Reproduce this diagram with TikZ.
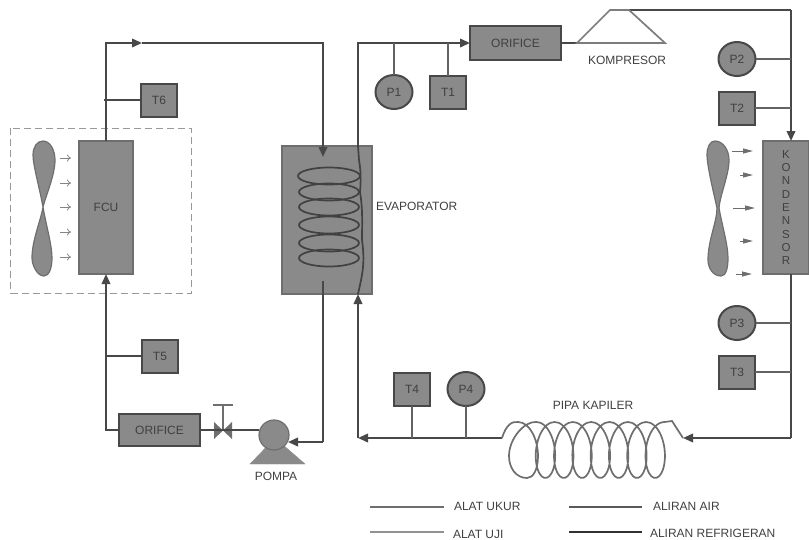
\documentclass[tikz,border=0pt]{standalone}
\usepackage{fontspec}
\setmainfont{Liberation Sans}
\usepackage{xcolor}
\usetikzlibrary{shapes.geometric, arrows.meta, positioning, calc}
\definecolor{unit}{HTML}{8A8A8A}
\definecolor{pipe}{HTML}{484848}
\definecolor{edge}{HTML}{6E6E6E}
\definecolor{label}{HTML}{404040}

\begin{document}
\begin{tikzpicture}[
  x=1pt, y=-1pt,
  every node/.style={font=\fontsize{12}{14}\selectfont, text=label, inner sep=0pt, outer sep=0pt},
  unitbox/.style={draw=edge, line width=2pt, fill=unit, anchor=north west},
  sensorT/.style={draw=pipe, line width=2pt, fill=unit, minimum width=36pt, minimum height=33pt},
  sensorP/.style={draw=pipe, line width=2pt, fill=unit, ellipse, minimum width=37pt, minimum height=34pt},
  flow/.style={draw=pipe, line width=2pt},
  flowend/.style={flow, -{Triangle[length=10pt, width=8.5pt]}},
  stem/.style={draw=pipe!85!white, line width=2pt},
  coil/.style={draw=pipe!90!black, line width=1.7pt},
  capil/.style={draw=edge, line width=1.7pt},
  fanblade/.style={draw=edge, line width=1.2pt, fill=unit}
]
  \useasboundingbox (0,0) rectangle (809,539);

  % units
  \draw[draw=edge!70!white, line width=1pt, dash pattern=on 7pt off 4pt] (10.5,128) rectangle (191,293);
  \node[unitbox, minimum width=54pt, minimum height=133pt] (fcu) at (79,141) {FCU};
  \node[unitbox, minimum width=90pt, minimum height=148pt] (evap) at (282,146) {};
  \node[unitbox, draw=pipe, minimum width=91pt, minimum height=34pt] (orfA) at (470,26) {ORIFICE};
  \node[unitbox, draw=pipe, minimum width=81pt, minimum height=32pt] (orfB) at (119,414) {ORIFICE};
  \node[unitbox, minimum width=46pt, minimum height=133pt, align=center,
        font=\fontsize{11.5}{13.3}\selectfont] (kond) at (763,141) {K\\O\\N\\D\\E\\N\\S\\O\\R};

  % sensors
  \node[sensorT] (t1) at (448,92) {T1};
  \node[sensorT] (t2) at (737,108) {T2};
  \node[sensorT] (t3) at (737,372) {T3};
  \node[sensorT] (t4) at (412,389) {T4};
  \node[sensorT] (t5) at (160,356) {T5};
  \node[sensorT] (t6) at (159,100) {T6};
  \node[sensorP] (p1) at (394,92) {P1};
  \node[sensorP] (p2) at (737,59) {P2};
  \node[sensorP] (p3) at (737,323) {P3};
  \node[sensorP] (p4) at (466,389) {P4};

  % bends and free ends
  \coordinate (fcuTop) at (106,43);
  \coordinate (fcuMid) at (142,43);
  \coordinate (evapTop) at (323,43);
  \coordinate (evapIn) at (323,157);
  \coordinate (evapOut) at (323,281);
  \coordinate (pumpIn) at (288,442);
  \coordinate (refOut) at (358,146);
  \coordinate (refIn) at (358,294);
  \coordinate (refTop) at (358,43);
  \coordinate (refLow) at (358,438);
  \coordinate (kapL) at (502,438);
  \coordinate (kapR) at (683,438);
  \coordinate (komIn) at (577,43);
  \coordinate (komOut) at (629,10);
  \coordinate (kondX) at (791,10);
  \coordinate (kondLow) at (791,438);

  % pump and valve
  \fill[unit, draw=unit] (250,464) -- (275,438) -- (305,464) -- cycle;
  \node[draw=edge, line width=1.2pt, fill=unit, circle, minimum size=30pt] (pompa) at (274,435) {};
  \coordinate (valve) at (223,430);
  \coordinate (valveTop) at (223,405);
  \draw[stem, draw=edge] (valve) -- (valveTop);
  \draw[stem, draw=edge] ($(valveTop)+(-10,0)$) -- ($(valveTop)+(10,0)$);
  \fill[edge] (214,422) -- (232,439) -- (232,422) -- (214,439) -- cycle;

  % water loop
  \draw[flowend] (fcu.north) -- (fcuTop) -- (fcuMid);
  \draw[flowend] (fcuMid) -- (evapTop) -- (evapIn);
  \draw[flow] (evapOut) -- (evapOut |- pumpIn);
  \draw[flowend] (evapOut |- pumpIn) -- (pumpIn);
  \draw[flow] (pompa.west |- valve) -- (valve);
  \draw[flow] (valve) -- (orfB.east);
  \draw[flowend] (orfB.west) -| (fcu.south);
  \draw[flow] (t6.west) -- ($(t6.west -| fcu.north)+(-2,0)$);
  \draw[flow] (t5.west) -- (t5.west -| fcu.south);

  % refrigerant loop
  \draw[flowend] (refLow) -- (refIn);
  \draw[flowend] (refOut) -- (refTop) -- (orfA.west);
  \draw[flow] (orfA.east) -- (komIn);
  \draw[flow] (komOut) -- (kondX);
  \draw[flowend] (kondX) -- (kond.north -| kondX);
  \draw[flow] (kond.south -| kondX) -- (kondLow);
  \draw[flowend] (kondLow) -- (kapR);
  \draw[flowend] (kapL) -- (refLow);
  \draw[stem] (p1) -- (p1 |- refTop);
  \draw[stem] (t1) -- (t1 |- refTop);
  \draw[stem] (p2) -- (p2 -| kondX);
  \draw[stem] (t2) -- (t2 -| kondX);
  \draw[stem] (p3) -- (p3 -| kondX);
  \draw[stem] (t3) -- (t3 -| kondX);
  \draw[stem] (t4) -- (t4 |- kapL);
  \draw[stem] (p4) -- (p4 |- kapL);

  % kompresor
  \draw[capil, draw=edge!90!white] (komIn) -- (610,10) -- (komOut) -- (665,43) -- cycle;

  % evaporator coil
  \foreach \cy/\rx in {176/31, 192/30, 207/30, 225/30, 243/30, 258/30}
    \draw[coil] (329,\cy) ellipse [x radius=\rx, y radius=8.5];
  \draw[coil] (refOut) -- (359,160) .. controls (361,172) and (361,180) .. (360,192)
    .. controls (363,210) and (362,225) .. (362,240)
    .. controls (365,262) and (363,272) .. (358,294);

  % kapiler
  \draw[capil] (kapL) .. controls (506,425) and (512,421) .. (518,422)
    .. controls (530,422) and (538,440) .. (538,456)
    .. controls (538,470) and (533,478) .. (527,478)
    .. controls (516,478) and (509,468) .. (509,456)
    .. controls (509,438) and (525,421) .. (536,422)
    -- plot[domain=360:2880, samples=190, smooth] ({518+18.3/360*\x+14*sin(\x)}, {450-28*cos(\x)})
    -- (672,421) -- (kapR);

  % fans
  \draw[fanblade] (43,141) .. controls (50,141) and (55,150) .. (55,160)
    .. controls (55,175) and (46,195) .. (43,207)
    .. controls (46,225) and (52,245) .. (52,258)
    .. controls (52,268) and (49,276) .. (44,276)
    .. controls (37,276) and (32,265) .. (32,258)
    .. controls (32,240) and (41,220) .. (43,207)
    .. controls (40,190) and (33,165) .. (33,155)
    .. controls (33,147) and (37,141) .. (43,141) -- cycle;
  \draw[fanblade] (715,141) .. controls (723,141) and (729,150) .. (729,160)
    .. controls (729,175) and (720,195) .. (719,208)
    .. controls (722,225) and (728,245) .. (728,258)
    .. controls (728,268) and (726,276) .. (721,276)
    .. controls (713,276) and (708,268) .. (708,260)
    .. controls (708,240) and (717,222) .. (717,208)
    .. controls (713,190) and (707,165) .. (707,155)
    .. controls (707,147) and (710,141) .. (715,141) -- cycle;
  \foreach \ay in {158, 183, 207, 232, 257}
    \draw[edge!85!white, line width=0.8pt, -{To[length=4pt, width=7pt]}] (60,\ay) -- (71,\ay);
  \foreach \ax/\ay/\bx in {732/151/753, 740/175/753, 733/208/755, 740/241/753, 736/274/752}
    \draw[edge, line width=1pt, -{Triangle[length=10pt, width=5pt]}] (\ax,\ay) -- (\bx,\ay);

  % names
  \node[anchor=west] (evapText) at (376,206) {EVAPORATOR};
  \node (komText) at (627,60) {KOMPRESOR};
  \node (pompaText) at (276,476) {POMPA};
  \node (kapText) at (593,405) {PIPA KAPILER};

  % legend
  \node[anchor=west] (lgUkur) at (454,506) {ALAT UKUR};
  \node[anchor=west] (lgUji) at (453,534) {ALAT UJI};
  \node[anchor=west] (lgAir) at (653,506) {ALIRAN AIR};
  \node[anchor=west] (lgRef) at (650,533) {ALIRAN REFRIGERAN};
  \coordinate (lgA) at (370,507);
  \coordinate (lgB) at (370,532);
  \coordinate (lgC) at (569,507);
  \coordinate (lgD) at (569,532);
  \draw[draw=edge, line width=2pt] (lgA) -- ++(74,0);
  \draw[draw=edge!75!white, line width=2pt] (lgB) -- ++(74,0);
  \draw[draw=pipe!90!white, line width=2pt] (lgC) -- ++(73,0);
  \draw[draw=pipe!70!black, line width=2pt] (lgD) -- ++(73,0);
\end{tikzpicture}
\end{document}
